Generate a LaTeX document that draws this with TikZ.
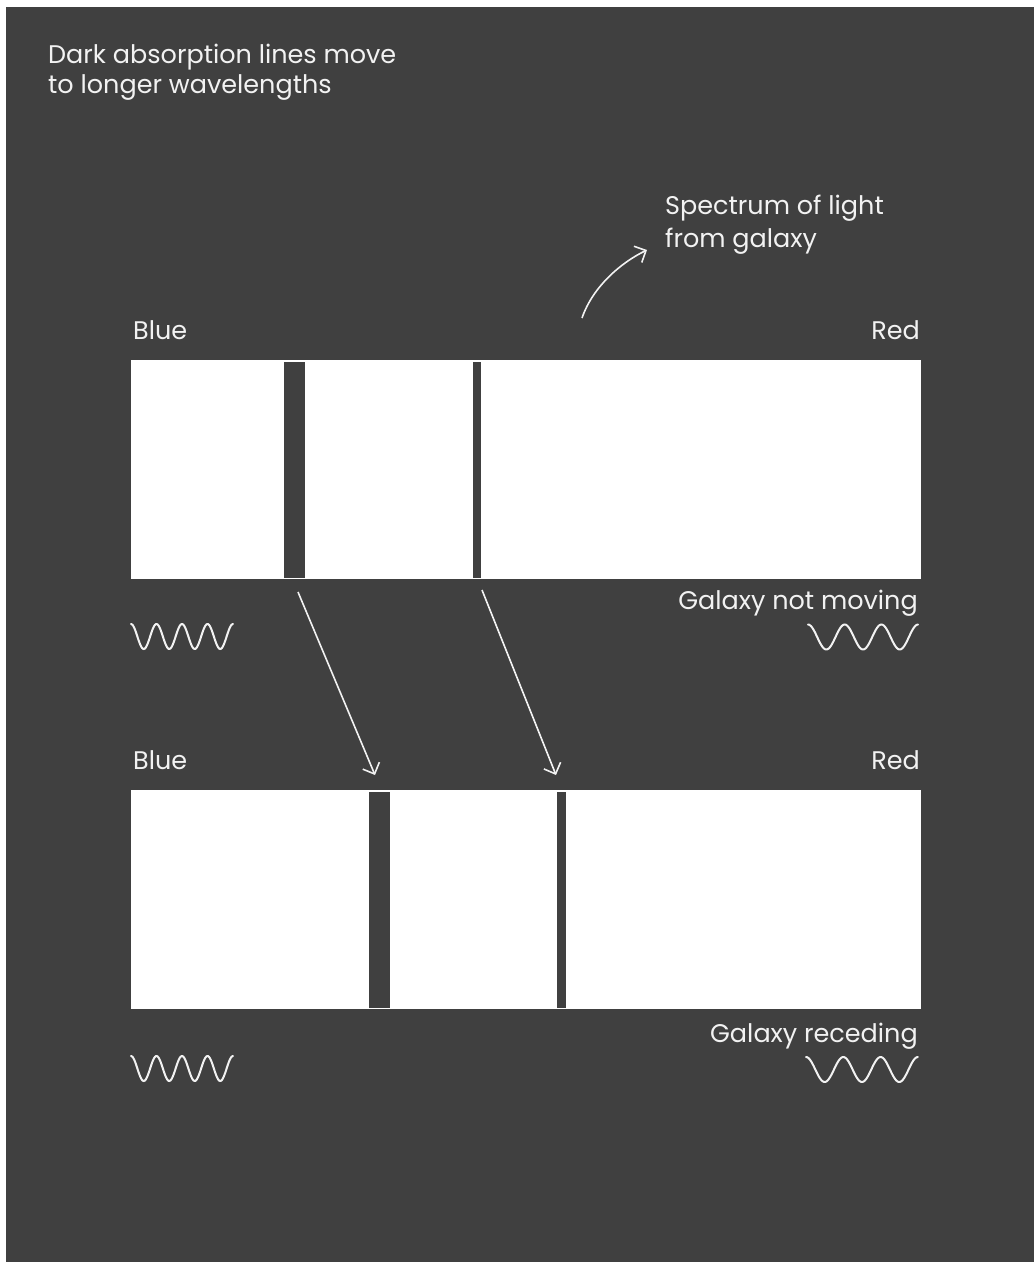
\documentclass[tikz,border=0pt]{standalone}
\usepackage{fontspec}
\setmainfont{Poppins}
\usetikzlibrary{arrows.meta}
\definecolor{bgdark}{HTML}{404040}
\definecolor{txt}{HTML}{F2F2F2}
\tikzset{
  lbl/.style={text=txt, inner sep=0pt, font=\fontsize{25.5}{30}\selectfont},
  bar/.style={fill=white, draw=none, minimum height=219pt, inner sep=0pt},
  absline/.style={fill=bgdark, draw=none, minimum height=216pt, inner sep=0pt},
  wave/.style={draw=txt, line width=2pt, line cap=round},
  shiftarrow/.style={draw=txt, line width=1.6pt, -{Straight Barb[length=9pt,width=18pt,line width=1.6pt]}},
}
\begin{document}
\begin{tikzpicture}[x=1pt,y=-1pt]
\useasboundingbox (0,0) rectangle (1034,1262);
\fill[white] (0,0) rectangle (1034,1262);
\fill[bgdark] (6,7) rectangle (1034,1262);
% title
\node[lbl, anchor=base west, align=left] (title) at (48,93) {Dark absorption lines move\\to longer wavelengths};
\node[lbl, anchor=base west, align=left, font=\fontsize{25.5}{33}\selectfont] (spec) at (665,247) {Spectrum of light\\from galaxy};
% top spectrum
\node[lbl, anchor=base west] (blue1) at (133,339) {Blue};
\node[lbl, anchor=base east] (red1) at (920,339) {Red};
\node[bar, minimum width=790pt] (bar1) at (526,469.5) {};
\node[absline, minimum width=21pt] (l1a) at (294.5,470) {};
\node[absline, minimum width=8pt] (l1b) at (477,470) {};
\node[lbl, anchor=base east] (gnm) at (918,609) {Galaxy not moving};
% bottom spectrum
\node[lbl, anchor=base west] (blue2) at (133,769) {Blue};
\node[lbl, anchor=base east] (red2) at (920,769) {Red};
\node[bar, minimum width=790pt] (bar2) at (526,899.5) {};
\node[absline, minimum width=21pt] (l2a) at (379.5,900) {};
\node[absline, minimum width=9pt] (l2b) at (561.5,900) {};
\node[lbl, anchor=base east] (grec) at (918,1042) {Galaxy receding};
% waves
\draw[wave] plot[domain=0:4, samples=120] ({131+\x*25.5},{636.5-12.5*cos(\x*360)});
\draw[wave] plot[domain=0:3, samples=100] ({808+\x*36.7},{637-12.5*cos(\x*360)});
\draw[wave] plot[domain=0:4, samples=120] ({131+\x*25.5},{1068.5-12.5*cos(\x*360)});
\draw[wave] plot[domain=0:3, samples=100] ({806+\x*37.3},{1069.5-12.5*cos(\x*360)});
% arrows
\coordinate (a1s) at (298,592);
\coordinate (a1e) at (375,775);
\coordinate (a2s) at (482,590);
\coordinate (a2e) at (556,775);
\draw[shiftarrow] (a1s) -- (a1e);
\draw[shiftarrow] (a2s) -- (a2e);
\coordinate (cs) at (582,318);
\coordinate (ce) at (647,250);
\draw[shiftarrow] (cs) .. controls (593,286) and (622,262) .. (ce);
\end{tikzpicture}
\end{document}
